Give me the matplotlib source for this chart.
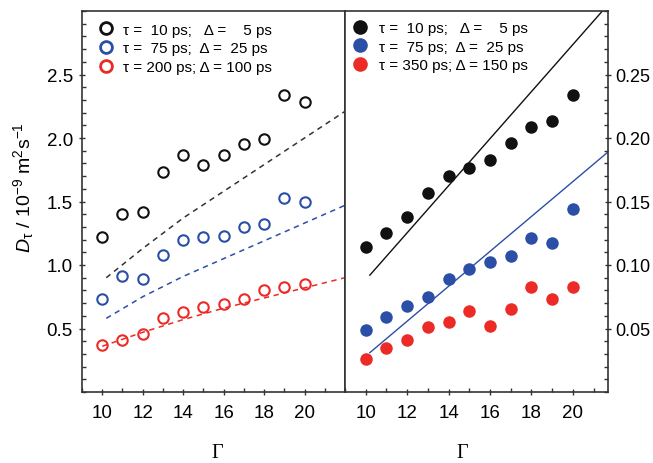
import matplotlib
matplotlib.use("Agg")
import matplotlib.pyplot as plt
from matplotlib.lines import Line2D
from matplotlib.ticker import MultipleLocator

plt.rcParams['font.family'] = ['Liberation Sans', 'DejaVu Sans']
plt.rcParams['mathtext.fontset'] = 'custom'
plt.rcParams['mathtext.rm'] = 'Liberation Sans'
plt.rcParams['mathtext.it'] = 'Liberation Sans:italic'

gamma = [10, 11, 12, 13, 14, 15, 16, 17, 18, 19, 20]

# Left panel (open circles)
left_black = [1.22, 1.40, 1.42, 1.73, 1.87, 1.79, 1.87, 1.95, 1.99, 2.34, 2.28]
left_blue = [0.73, 0.91, 0.89, 1.08, 1.20, 1.22, 1.23, 1.30, 1.32, 1.53, 1.50]
left_red = [0.37, 0.41, 0.46, 0.58, 0.63, 0.67, 0.69, 0.73, 0.80, 0.83, 0.85]

# Left panel dashed theory curves
theory_x = [10.2, 12, 14, 16, 18, 20, 22]
theory_black = [0.90, 1.13, 1.37, 1.58, 1.79, 2.00, 2.21]
theory_blue = [0.58, 0.75, 0.91, 1.05, 1.19, 1.33, 1.47]
red_x = [10, 12, 14, 16, 18, 20, 22]
theory_red = [0.36, 0.47, 0.57, 0.66, 0.74, 0.82, 0.90]

# Right panel (filled circles)
right_black = [0.114, 0.125, 0.138, 0.157, 0.170, 0.176, 0.183, 0.196, 0.209, 0.213, 0.234]
right_blue = [0.049, 0.059, 0.068, 0.075, 0.089, 0.097, 0.102, 0.107, 0.121, 0.117, 0.144]
right_red = [0.026, 0.035, 0.041, 0.051, 0.055, 0.064, 0.052, 0.065, 0.083, 0.073, 0.083]

# Right panel solid lines
fit_x = [10.2, 21.7]
fit_black = [0.092, 0.305]
fit_blue = [0.031, 0.189]

x_ticks = [10, 12, 14, 16, 18, 20]
left_yticks = [0.5, 1.0, 1.5, 2.0, 2.5]
right_yticks = [0.05, 0.10, 0.15, 0.20, 0.25]

left_labels = ["\u03c4 =  10 ps;   \u0394 =    5 ps",
               "\u03c4 =  75 ps;  \u0394 =  25 ps",
               "\u03c4 = 200 ps; \u0394 = 100 ps"]
right_labels = ["\u03c4 =  10 ps;   \u0394 =    5 ps",
                "\u03c4 =  75 ps;  \u0394 =  25 ps",
                "\u03c4 = 350 ps; \u0394 = 150 ps"]

BLACK = '#111111'
BLUE = '#2b4fa6'
RED = '#ec2a26'
SPINE = '#333333'

fig = plt.figure(figsize=(6.53, 4.64), dpi=100)
axL = fig.add_axes([82/653, 1-393/464, 263/653, 381/464])
axR = fig.add_axes([345/653, 1-393/464, 263/653, 381/464])

ms_open = 7.5
for ys, c in zip([left_black, left_blue, left_red], [BLACK, BLUE, RED]):
    axL.plot(gamma, ys, 'o', mfc='none', mec=c, mew=1.5, ms=ms_open, ls='none')
axL.plot(theory_x, theory_black, ls=(0, (3.5, 3)), color='#333333', lw=1.1)
axL.plot(theory_x, theory_blue, ls=(0, (3.5, 3)), color=BLUE, lw=1.1)
axL.plot(red_x, theory_red, ls=(0, (3.5, 3)), color=RED, lw=1.1)

for ys, c in zip([right_black, right_blue, right_red], [BLACK, BLUE, RED]):
    axR.plot(gamma, ys, 'o', color=c, mec='none', ms=9, ls='none')
axR.plot(fit_x, fit_black, '-', color=BLACK, lw=1.0)
axR.plot(fit_x, fit_blue, '-', color=BLUE, lw=1.0)

axL.set_xlim(9, 22)
axL.set_ylim(0, 3.0)
axR.set_xlim(9, 21.7)
axR.set_ylim(0, 0.3)

for ax in (axL, axR):
    ax.set_xticks(x_ticks)
    ax.set_xticklabels([str(v) for v in x_ticks])
    ax.xaxis.set_minor_locator(MultipleLocator(1))
    for s in ax.spines.values():
        s.set_color(SPINE)
        s.set_linewidth(1.2)
    ax.tick_params(axis='both', which='major', direction='inout', length=5, width=1.0,
                   color=SPINE, labelsize=13.5, pad=4)
    ax.tick_params(axis='both', which='minor', direction='in', length=3, width=1.0,
                   color=SPINE)

axL.yaxis.set_minor_locator(MultipleLocator(0.1))
axL.set_yticks(left_yticks)
axL.set_yticklabels(['%.1f' % v for v in left_yticks])
axL.tick_params(axis='y', which='both', right=False)
axL.tick_params(axis='x', which='both', top=False, pad=6)

axR.yaxis.tick_right()
axR.yaxis.set_minor_locator(MultipleLocator(0.01))
axR.set_yticks(right_yticks)
axR.set_yticklabels(['%.2f' % v for v in right_yticks])
axR.tick_params(axis='y', which='both', left=False, right=True, labelsize=13, pad=3)
axR.tick_params(axis='x', which='both', top=False, pad=6)

axL.set_ylabel(r'$D_{\mathrm{\tau}}$ / 10$^{-9}$ m$^{2}$s$^{-1}$', fontsize=14)
axL.yaxis.set_label_coords(-0.175, 0.54)

for ax, xc in ((axL, 0.513), (axR, 0.445)):
    ax.set_xlabel('\u0393', fontsize=14.5, family=['Liberation Serif', 'DejaVu Serif'])
    ax.xaxis.set_label_coords(xc, -0.135)

hL = [Line2D([], [], marker='o', ls='none', mfc='none', mec=c, mew=2.0, ms=8.5)
      for c in (BLACK, BLUE, RED)]
legL = axL.legend(hL, left_labels, loc='upper left', frameon=False, fontsize=11,
                  handletextpad=0.5, labelspacing=0.3, borderaxespad=0.0,
                  bbox_to_anchor=(0.035, 0.985), handlelength=1.2)

hR = [Line2D([], [], marker='o', ls='none', color=c, mec='none', ms=10.5)
      for c in (BLACK, BLUE, RED)]
legR = axR.legend(hR, right_labels, loc='upper left', frameon=False, fontsize=11,
                  handletextpad=0.6, labelspacing=0.3, borderaxespad=0.0,
                  bbox_to_anchor=(0.0, 0.99), handlelength=1.2)

fig.savefig('out.png', dpi=100)
